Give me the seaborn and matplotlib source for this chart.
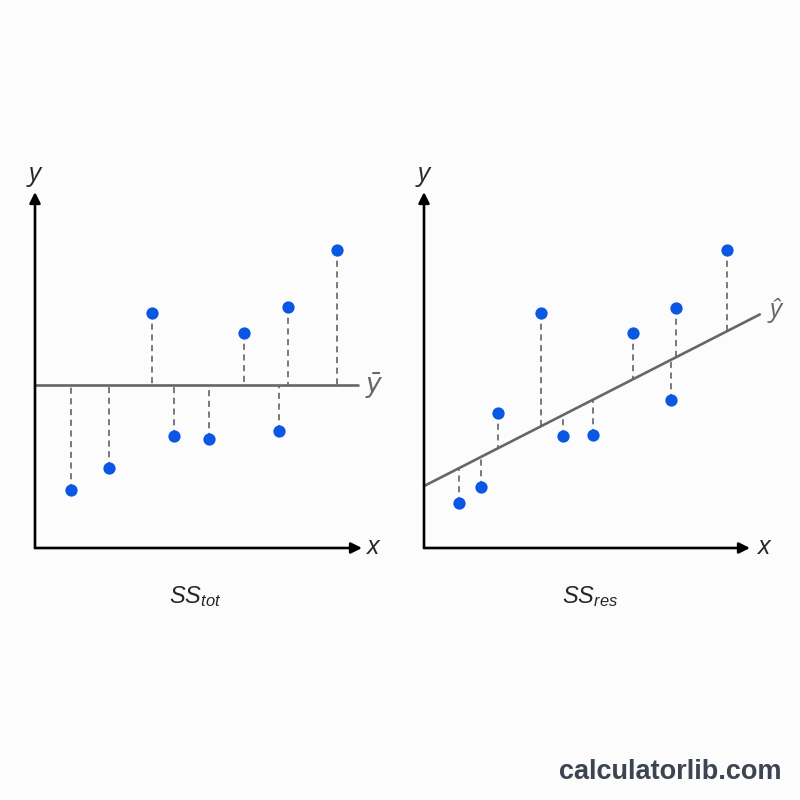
"""SS_tot vs SS_res illustration"""

import numpy as np
import pandas as pd
import matplotlib.pyplot as plt
import seaborn as sns

# left panel: points around the mean
tot_x = [1.10, 2.26, 3.58, 4.25, 5.32, 6.39, 7.46, 7.74, 9.24]
tot_y = [1.63, 2.25, 6.60, 3.15, 3.06, 6.04, 3.29, 6.77, 8.37]

# right panel: points around the fitted line
res_x = [1.07, 1.75, 2.27, 3.59, 4.26, 5.18, 6.41, 7.58, 7.73, 9.29]
res_y = [1.26, 1.71, 3.79, 6.60, 3.15, 3.17, 6.04, 4.16, 6.74, 8.37]
fit_intercept = 1.74
fit_slope = 0.468
fit_x = [0.0, 10.3]

tot_df = pd.DataFrame({'x': tot_x, 'y': tot_y})
res_df = pd.DataFrame({'x': res_x, 'y': res_y})
res_df['yhat'] = fit_intercept + fit_slope * res_df['x']
fit_df = pd.DataFrame({'x': fit_x})
fit_df['y'] = fit_intercept + fit_slope * fit_df['x']
mean_y = tot_df['y'].mean()

sns.set_style('white')
plt.rcParams['font.family'] = ['Open Sans', 'DejaVu Sans']
plt.rcParams['mathtext.fontset'] = 'custom'
plt.rcParams['mathtext.it'] = 'Liberation Sans:italic'
plt.rcParams['mathtext.rm'] = 'Liberation Sans'

bg = '#fcfcfc'
blue = '#0a57e4'
grey = '#666666'
dash_grey = '#555555'

fig = plt.figure(figsize=(8, 8), dpi=100, facecolor=bg)
ax1 = fig.add_axes([35 / 800, 252 / 800, 327 / 800, 356 / 800])
ax2 = fig.add_axes([424 / 800, 252 / 800, 326 / 800, 356 / 800])


def setup(ax):
    ax.set_facecolor(bg)
    ax.set_xlim(0, 10)
    ax.set_ylim(0, 10)
    for s in ax.spines.values():
        s.set_visible(False)
    ax.set_xticks([])
    ax.set_yticks([])
    ax.set_xlabel('')
    ax.set_ylabel('')
    arrow = dict(arrowstyle='-|>', lw=1.9, color='black', mutation_scale=16,
                 shrinkA=0, shrinkB=0)
    ax.annotate('', xy=(10, 0), xytext=(0, 0), arrowprops=arrow, annotation_clip=False)
    ax.annotate('', xy=(0, 10), xytext=(0, 0), arrowprops=arrow, annotation_clip=False)
    ax.text(0, 10.5, 'y', fontsize=19, style='italic', ha='center', va='center')


# SS_tot
ax1.plot([0, 9.88], [mean_y, mean_y], color=grey, lw=1.9, zorder=2)
ax1.vlines(tot_df['x'], tot_df['y'], mean_y, colors=dash_grey, lw=1.1,
           linestyles=(0, (4, 3)), zorder=1)
sns.scatterplot(data=tot_df, x='x', y='y', ax=ax1, color=blue, s=78,
                linewidth=0, zorder=3)
setup(ax1)
ax1.text(10.34, 0, 'x', fontsize=19, style='italic', ha='center', va='center')
ax1.text(10.34, mean_y, '\u0233', fontsize=19, style='italic', color=grey,
         ha='center', va='center')

# SS_res
sns.lineplot(data=fit_df, x='x', y='y', ax=ax2, color=grey, lw=1.9, zorder=2)
ax2.lines[-1].set_clip_on(False)
ax2.vlines(res_df['x'], res_df['y'], res_df['yhat'], colors=dash_grey, lw=1.1,
           linestyles=(0, (4, 3)), zorder=1)
sns.scatterplot(data=res_df, x='x', y='y', ax=ax2, color=blue, s=78,
                linewidth=0, zorder=3)
setup(ax2)
ax2.text(10.43, 0, 'x', fontsize=19, style='italic', ha='center', va='center')
ax2.text(10.8, fit_df['y'].iloc[-1] + 0.1, '\u0177', fontsize=19, style='italic',
         color=grey, ha='center', va='center')

fig.text(195 / 800, 1 - 597 / 800, r'$SS_{tot}$', fontsize=17, ha='center', va='center')
fig.text(590 / 800, 1 - 597 / 800, r'$SS_{res}$', fontsize=17, ha='center', va='center')

fig.text(782 / 800, 1 - 772 / 800, 'calculatorlib.com', fontsize=19.5, fontweight='bold',
         family='Liberation Sans', color='#3d4451', ha='right', va='center')

fig.savefig('out.png', dpi=100, facecolor=bg)
